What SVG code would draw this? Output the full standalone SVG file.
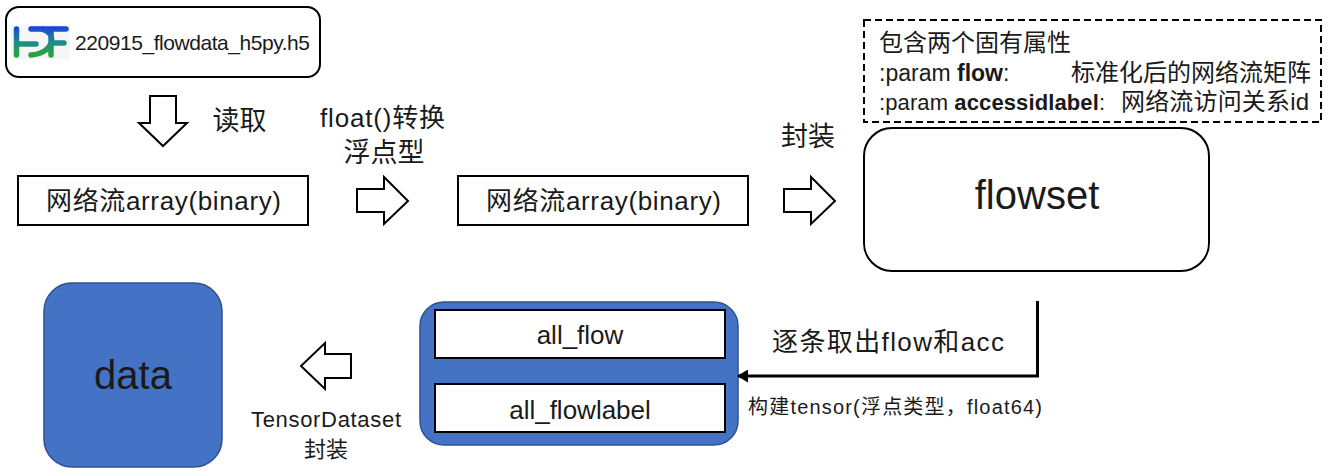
<svg xmlns="http://www.w3.org/2000/svg" width="1343" height="473" viewBox="0 0 1343 473">
<defs>
<linearGradient id="hdf" gradientUnits="userSpaceOnUse" x1="0" y1="26" x2="0" y2="58"><stop offset="0" stop-color="#1a3fe0"/><stop offset="0.5" stop-color="#1f8a8a"/><stop offset="1" stop-color="#2aa92e"/></linearGradient>
<marker id="ah" markerUnits="userSpaceOnUse" markerWidth="11" markerHeight="13" refX="10" refY="6.500" orient="auto"><path d="M0 0L11 6.500L0 13Z" fill="#000"/></marker>
</defs>
<style>
text{font-family:"Liberation Sans","Noto Sans CJK SC",sans-serif;fill:#1a1a1a;text-anchor:middle}
.s{font-size:21px}.m{font-size:26px}.p{font-size:24px}.x{font-size:40px}.n{font-size:20px}
.box{fill:#fff;stroke:#000;stroke-width:2}
.blue{fill:#4472c4;stroke:#2f528f;stroke-width:1.500}
.arr{fill:#fff;stroke:#000;stroke-width:2}
.left{text-anchor:start}
</style>
<g id="file">
<rect class="box" x="6" y="7" width="314" height="70" rx="13"/>
<rect x="11" y="25" width="59" height="34" fill="#f5f7f6"/>
<path d="M16.500 29V55M16.500 44H36M31 29H66M41 29C57 31 56 53 31 55M51 29V55M51 43H64" fill="none" stroke="url(#hdf)" stroke-width="5.500" stroke-linecap="round"/>
<text class="s left" x="75" y="50" textLength="235">220915_flowdata_h5py.h5</text>
</g>
<g id="props">
<rect x="864" y="20" width="457" height="102" fill="#fff" stroke="#000" stroke-width="2" stroke-dasharray="7 4"/>
<text class="p left" x="879" y="51">包含两个固有属性</text>
<text class="left" x="879" y="81" style="font-size:23px">:param <tspan font-weight="700">flow</tspan>:</text>
<text class="p left" x="1071" y="81">标准化后的网络流矩阵</text>
<text class="left" x="879" y="110" style="font-size:22px" textLength="226">:param <tspan font-weight="700">accessidlabel</tspan>:</text>
<text class="p left" x="1121" y="110" textLength="188">网络流访问关系id</text>
</g>
<g id="array1"><rect class="box" x="18" y="176" width="290" height="49"/><text class="m" x="163.500" y="210" textLength="235">网络流array(binary)</text></g>
<g id="array2"><rect class="box" x="458" y="176" width="290" height="49"/><text class="m" x="603.500" y="210" textLength="235">网络流array(binary)</text></g>
<g id="flowset"><rect class="box" x="864" y="128" width="345" height="143" rx="28"/><text class="x" x="1037" y="209">flowset</text></g>
<g id="data"><rect class="blue" x="44" y="283" width="178" height="184" rx="28"/><text class="x" x="133" y="389">data</text></g>
<g id="tensors">
<rect class="blue" x="420" y="302" width="318" height="143" rx="24"/>
<rect class="box" x="435" y="310" width="290" height="48"/><text class="m" x="580" y="344">all_flow</text>
<rect class="box" x="435" y="384" width="290" height="48"/><text class="m" x="580" y="419">all_flowlabel</text>
</g>
<g id="connectors">
<path class="arr" d="M150 96H176V123H187L163 146L139 123H150Z"/>
<path class="arr" d="M357 189H384V177L408 201L384 224V212H357Z"/>
<path class="arr" d="M784 189H811V177L835 201L811 224V212H784Z"/>
<path class="arr" d="M351 354H325V343L301 366L325 389V378H351Z"/>
<path d="M1037.500 301V376H738" fill="none" stroke="#000" stroke-width="3" marker-end="url(#ah)"/>
</g>
<g id="labels">
<text class="m" x="239.500" y="130" style="font-size:27px">读取</text>
<text class="m" x="382.500" y="127" textLength="125">float()转换</text>
<text class="m" x="384" y="162" style="font-size:27px">浮点型</text>
<text class="m" x="808" y="146" style="font-size:27px">封装</text>
<text class="m" x="888" y="351" textLength="232">逐条取出flow和acc</text>
<text class="n" x="895" y="414" textLength="294">构建tensor(浮点类型，float64)</text>
<text style="font-size:22px" x="326" y="427" textLength="150">TensorDataset</text>
<text class="s" x="326" y="457" style="font-size:22px">封装</text>
</g>
</svg>
